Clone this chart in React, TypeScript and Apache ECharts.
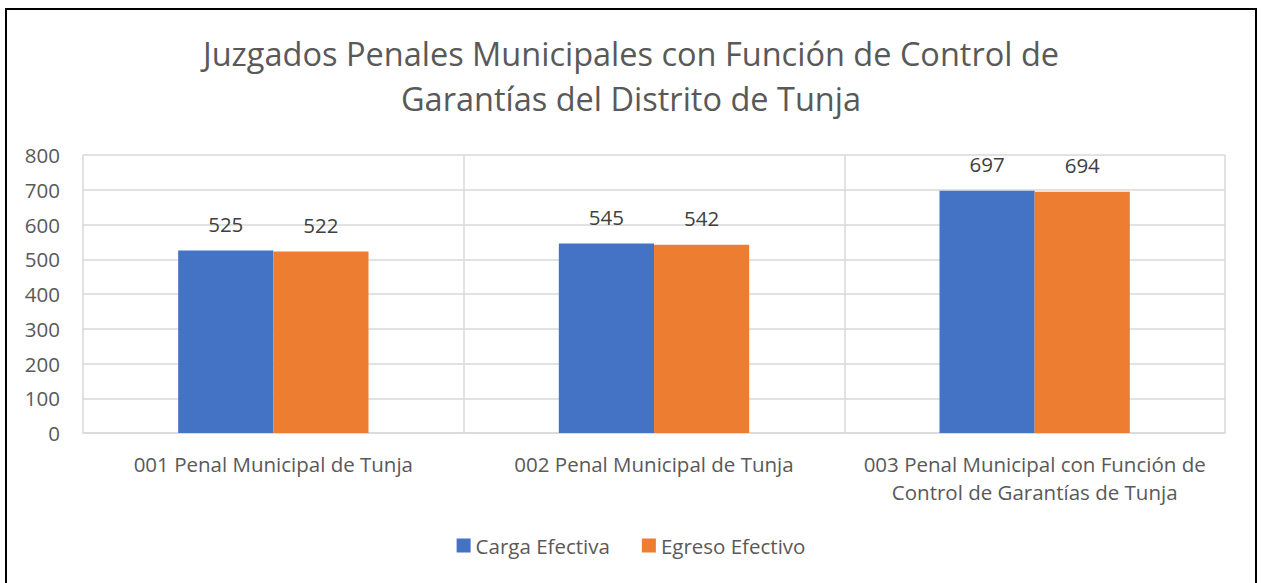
import React, { useEffect, useRef } from "react";
import * as echarts from "echarts";

const titleText = "Juzgados Penales Municipales con Función de Control de\nGarantías del Distrito de Tunja";
const categories = [
  "001 Penal Municipal de Tunja",
  "002 Penal Municipal de Tunja",
  "003 Penal Municipal con Función de Control de Garantías de Tunja",
];
const categoryLabels = [
  "001 Penal Municipal de Tunja",
  "002 Penal Municipal de Tunja",
  "003 Penal Municipal con Función de\nControl de Garantías de Tunja",
];
const cargaEfectiva = [525, 545, 697];
const egresoEfectivo = [522, 542, 694];
const seriesNames = ["Carga Efectiva", "Egreso Efectivo"];
const yTicks = { min: 0, max: 800, interval: 100 };

const FONT = "'Open Sans', sans-serif";
const FS = 20.5;

export default function App() {
  const ref = useRef<HTMLDivElement>(null);
  useEffect(() => {
    if (!ref.current) return;
    const chart = echarts.init(ref.current, undefined, { renderer: "svg" });
    const barLabel = {
      show: true,
      position: "top",
      distance: 16,
      fontFamily: FONT,
      fontSize: FS,
      color: "#404040",
    };
    chart.setOption({
      animation: false,
      backgroundColor: "#ffffff",
      textStyle: { fontFamily: FONT },
      title: {
        text: titleText,
        left: 626,
        textAlign: "center",
        top: 26,
        textStyle: {
          fontFamily: FONT,
          fontSize: 32.5,
          fontWeight: "normal",
          color: "#595959",
          lineHeight: 45,
        },
      },
      graphic: [
        {
          type: "rect",
          shape: { x: 6, y: 9, width: 1250, height: 620 },
          style: { fill: "none", stroke: "#000000", lineWidth: 2 },
          silent: true,
          z: 100,
        },
      ],
      legend: {
        bottom: 22,
        left: "center",
        itemWidth: 14,
        itemHeight: 14,
        itemGap: 32,
        icon: "rect",
        textStyle: { fontFamily: FONT, fontSize: FS, color: "#595959" },
        data: seriesNames,
      },
      grid: { left: 83, right: 37, top: 155, bottom: 150, containLabel: false },
      xAxis: {
        type: "category",
        data: categories,
        axisLine: { show: true, lineStyle: { color: "#d9d9d9", width: 1.5 } },
        axisTick: { show: false },
        splitLine: { show: true, interval: 0, lineStyle: { color: "#d9d9d9", width: 1.5 } },
        axisLabel: {
          interval: 0,
          fontFamily: FONT,
          fontSize: FS,
          color: "#595959",
          margin: 17,
          lineHeight: 28,
          formatter: (_v: string, i: number) => categoryLabels[i],
        },
      },
      yAxis: {
        type: "value",
        min: yTicks.min,
        max: yTicks.max,
        interval: yTicks.interval,
        axisLine: { show: false },
        axisTick: { show: false },
        splitLine: { show: true, lineStyle: { color: "#d9d9d9", width: 1.5 } },
        axisLabel: { fontFamily: FONT, fontSize: FS, color: "#595959", margin: 23 },
      },
      series: [
        {
          name: seriesNames[0],
          type: "bar",
          data: cargaEfectiva,
          barGap: "0%",
          barCategoryGap: "50%",
          itemStyle: { color: "#4472C4" },
          label: barLabel,
        },
        {
          name: seriesNames[1],
          type: "bar",
          data: egresoEfectivo,
          barGap: "0%",
          barCategoryGap: "50%",
          itemStyle: { color: "#ED7D31" },
          label: barLabel,
        },
      ],
    });
    return () => chart.dispose();
  }, []);
  return (
    <div
      ref={ref}
      style={{ position: "fixed", left: 0, top: 0, width: 1262, height: 583 }}
    />
  );
}
